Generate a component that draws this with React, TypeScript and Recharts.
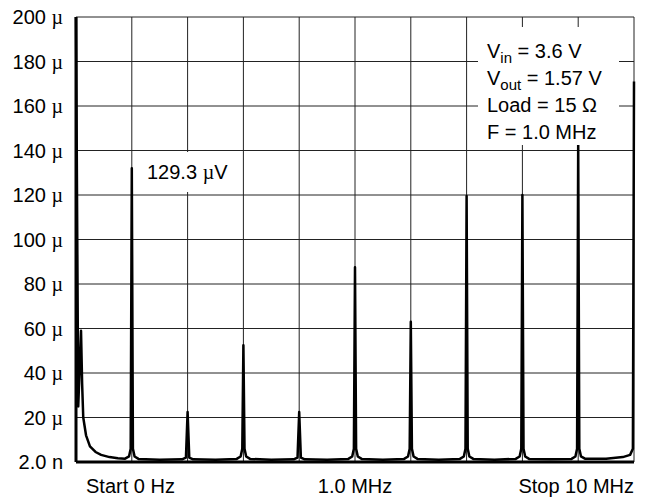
import { CartesianGrid, Line, LineChart, XAxis, YAxis } from 'recharts';

// frequency in MHz, amplitude in µV
const freqMHz = [
  0, 0.04, 0.09, 0.11, 0.13, 0.18, 0.25, 0.35, 0.45, 0.6, 0.75, 0.88, 0.95, 0.98,
  1, 1.02, 1.05, 1.12, 1.5, 1.9, 1.97,
  2, 2.03, 2.1, 2.5, 2.88, 2.95, 2.98,
  3, 3.02, 3.05, 3.12, 3.5, 3.9, 3.97,
  4, 4.03, 4.1, 4.5, 4.88, 4.95, 4.98,
  5, 5.02, 5.05, 5.12, 5.5, 5.88, 5.95, 5.98,
  6, 6.02, 6.05, 6.12, 6.5, 6.88, 6.95, 6.98,
  7, 7.02, 7.05, 7.12, 7.5, 7.88, 7.95, 7.98,
  8, 8.02, 8.05, 8.12, 8.5, 8.88, 8.95, 8.98,
  9, 9.02, 9.05, 9.12, 9.5, 9.8, 9.93, 9.98,
  10,
];
const amplitudeUV = [
  200, 25, 59, 35, 20, 12, 7, 4.5, 3.2, 2.2, 1.7, 1.5, 2.5, 6,
  132, 6, 2.5, 1.4, 1.0, 1.2, 2,
  22.5, 2, 1.2, 1.0, 1.4, 2.5, 6,
  52.5, 6, 2.5, 1.4, 1.0, 1.2, 2,
  22.5, 2, 1.2, 1.0, 1.4, 2.5, 6,
  87.5, 6, 2.5, 1.4, 1.0, 1.4, 2.5, 6,
  63, 6, 2.5, 1.4, 1.0, 1.4, 2.5, 6,
  119.5, 6, 2.5, 1.4, 1.0, 1.4, 2.5, 6,
  120, 6, 2.5, 1.4, 1.2, 1.4, 2.5, 6,
  143.5, 6, 2.5, 1.5, 1.5, 2.2, 3.2, 6,
  171,
];

const xTicks = [0, 1, 2, 3, 4, 5, 6, 7, 8, 9, 10];
const yTicks = [0, 20, 40, 60, 80, 100, 120, 140, 160, 180, 200];
const xTickLabels: Record<number, string> = { 0: 'Start 0 Hz', 5: '1.0 MHz', 10: 'Stop 10 MHz' };

const conditions = [
  { name: 'V', sub: 'in', value: ' = 3.6 V' },
  { name: 'V', sub: 'out', value: ' = 1.57 V' },
  { name: 'Load = 15 Ω', sub: '', value: '' },
  { name: 'F = 1.0 MHz', sub: '', value: '' },
];
const markerLabel = '129.3';

const data = freqMHz.map((f, i) => ({ f, v: amplitudeUV[i] }));

const FONT = '"Liberation Sans", Arial, sans-serif';
const SERIF = '"Liberation Serif", "Times New Roman", serif';

const YTick = ({ x, y, payload }: any) => {
  const v = payload.value;
  return (
    <text x={x} y={y} dy="0.355em" textAnchor="end" fill="#000" fontSize={20} fontFamily={FONT}>
      {v === 0 ? (
        '2.0 n'
      ) : (
        <>
          <tspan>{v} </tspan>
          <tspan fontFamily={SERIF}>µ</tspan>
        </>
      )}
    </text>
  );
};

const XTick = ({ x, y, payload }: any) => {
  const label = xTickLabels[payload.value];
  if (!label) return null;
  const anchor = payload.value === 0 ? 'start' : payload.value === 10 ? 'end' : 'middle';
  const dx = payload.value === 0 ? 10 : 0;
  return (
    <text x={x + dx} y={y} dy="0.71em" textAnchor={anchor} fill="#000" fontSize={20} fontFamily={FONT}>
      {label}
    </text>
  );
};

export default function App() {
  return (
    <div style={{ position: 'absolute', left: 0, top: 0, width: 654, height: 504, background: '#fff', fontFamily: FONT }}>
      <LineChart width={654} height={504} data={data} margin={{ top: 17, right: 20, bottom: 0, left: 0 }}>
        <CartesianGrid stroke="#222" strokeWidth={1} horizontalPoints={undefined} />
        <XAxis
          dataKey="f"
          type="number"
          domain={[0, 10]}
          ticks={xTicks}
          height={42}
          tick={<XTick />}
          tickLine={false}
          tickMargin={11}
          axisLine={{ stroke: '#000', strokeWidth: 3 }}
        />
        <YAxis
          type="number"
          domain={[0, 200]}
          ticks={yTicks}
          width={76}
          tick={<YTick />}
          tickLine={false}
          tickMargin={7}
          axisLine={{ stroke: '#000', strokeWidth: 3 }}
        />
        <Line
          type="linear"
          dataKey="v"
          stroke="#000"
          strokeWidth={2.5}
          strokeLinejoin="round"
          dot={false}
          isAnimationActive={false}
        />
      </LineChart>

      <div
        style={{
          position: 'absolute',
          left: 478,
          top: 27,
          width: 141,
          height: 118,
          background: '#fff',
          boxSizing: 'border-box',
          paddingLeft: 9,
          paddingTop: 11,
          fontSize: 20,
          lineHeight: '27px',
          color: '#000',
        }}
      >
        {conditions.map((c, i) => (
          <div key={i} style={{ whiteSpace: 'nowrap' }}>
            {c.name}
            {c.sub && <span style={{ fontSize: 15, verticalAlign: -5, lineHeight: 0 }}>{c.sub}</span>}
            {c.value}
          </div>
        ))}
      </div>

      <div
        style={{
          position: 'absolute',
          left: 140,
          top: 152,
          width: 96,
          height: 40,
          background: '#fff',
          boxSizing: 'border-box',
          paddingLeft: 7,
          fontSize: 20,
          lineHeight: '40px',
          color: '#000',
          whiteSpace: 'nowrap',
        }}
      >
        {markerLabel} <span style={{ fontFamily: SERIF }}>µ</span>V
      </div>
    </div>
  );
}
